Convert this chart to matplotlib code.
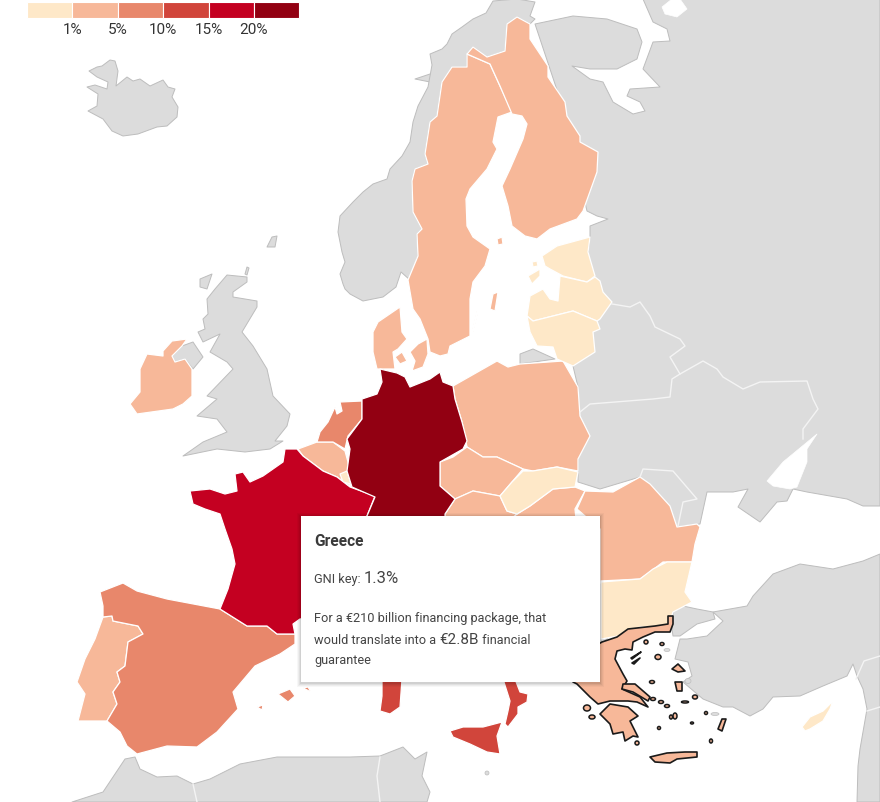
import matplotlib
matplotlib.use("Agg")
import matplotlib.pyplot as plt
from matplotlib.patches import Polygon, Rectangle, Ellipse

plt.rcParams["font.family"] = ["Roboto", "DejaVu Sans"]

# choropleth classes
legend_colors = ["#FEE8C8", "#F7B899", "#E8876B", "#D1453B", "#C40021", "#920012"]
legend_labels = ["1%", "5%", "10%", "15%", "20%"]
GREY = "#DCDCDC"
COAST = "#BDBDBD"

# outlines, in picture pixels
iceland = [(89,72),(97,68),(102,67),(110,61),(115,62),(118,72),(116,87),(127,78),(133,82),(140,80),(150,87),(163,81),(168,88),(175,90),(172,98),(178,108),(177,118),(167,127),(157,128),(138,135),(123,137),(112,132),(103,120),(88,112),(97,107),(98,95),(87,88),(95,86),(107,90),(108,83),(97,78)]
faroe = [(267,248),(272,238),(277,237),(275,248)]
hebrides = [(200,280),(212,275),(207,290),(200,288)]
orkney = [(245,275),(247,268),(249,269),(247,276)]
lofoten = [(415,80),(430,75),(438,78),(430,83)]
britain = [(227,276),(247,278),(247,283),(233,293),(233,298),(257,302),(257,308),(242,333),(253,347),(267,370),(273,397),(290,415),(287,427),(275,442),(283,442),(270,450),(245,453),(217,450),(183,457),(203,443),(227,433),(217,420),(197,417),(217,400),(207,397),(233,370),(227,363),(210,353),(220,335),(203,343),(198,333),(205,330),(203,320),(208,315),(207,300),(215,290)]
n_ireland = [(172,357),(182,347),(193,343),(203,358),(193,370),(185,360),(175,363)]
ireland = [(163,352),(172,342),(187,340),(182,347),(172,357),(175,363),(185,360),(192,370),(192,397),(183,405),(173,410),(137,415),(130,405),(140,393),(140,370),(147,355),(163,357)]
norway = [(345,290),(350,295),(363,302),(383,298),(396,288),(401,273),(410,281),(418,257),(417,235),(422,230),(413,213),(412,182),(415,170),(428,165),(425,155),(430,123),(437,117),(442,83),(452,68),(467,68),(467,55),(473,48),(487,58),(505,52),(507,25),(517,18),(530,25),(535,20),(530,17),(535,3),(517,0),(493,2),(486,14),(473,20),(462,28),(452,35),(447,45),(442,50),(430,55),(432,66),(428,88),(418,107),(413,123),(410,143),(402,157),(390,170),(387,180),(373,185),(363,193),(353,203),(340,217),(338,233),(342,253),(345,263),(340,275),(343,285)]
sweden = [(408,281),(418,257),(417,235),(422,230),(413,213),(412,182),(415,170),(428,165),(425,155),(430,123),(437,117),(442,83),(452,68),(467,68),(467,55),(490,65),(500,87),(512,113),(498,118),(493,143),(497,150),(487,170),(470,190),(466,200),(467,227),(473,238),(490,250),(485,267),(473,283),(470,300),(470,337),(450,347),(448,355),(440,357),(430,353),(428,340),(420,320),(413,310)]
gotland = [(490,310),(493,295),(498,293),(495,312)]
oland = [(472,333),(477,312),(478,313),(473,333)]
finland = [(517,18),(530,25),(530,40),(548,67),(548,78),(565,103),(567,117),(580,137),(580,143),(598,153),(597,173),(583,212),(577,220),(550,230),(537,240),(525,237),(512,227),(508,207),(502,187),(510,170),(523,140),(527,125),(522,117),(512,115),(500,87),(490,65),(467,55),(473,48),(487,58),(505,52),(507,25)]
aland = [(497,240),(502,238),(503,245),(498,246)]
east = [(535,25),(573,17),(607,20),(637,30),(642,43),(637,60),(617,70),(590,70),(572,67),(590,80),(603,83),(613,103),(633,115),(645,112),(640,103),(627,97),(630,90),(660,88),(643,70),(653,43),(670,42),(667,30),(653,23),(643,0),(880,0),(880,507),(863,507),(847,500),(807,493),(793,490),(787,502),(777,503),(760,523),(738,508),(748,490),(733,493),(707,493),(700,525),(677,528),(640,478),(600,490),(578,483),(578,388),(573,367),(590,238),(590,227),(608,220),(597,217),(587,212),(560,100)]
white_lake = [(662,8),(672,0),(680,0),(687,10),(677,18),(665,15)]
azov = [(817,435),(807,450),(807,463),(797,488),(790,490),(773,487),(767,482),(783,463)]
belarus_west = [(612,305),(630,308),(640,303),(650,317),(655,328),(680,340),(685,347),(670,358),(680,375),(672,380),(670,398),(653,400),(590,405),(580,413)]
ukraine_north = [(680,375),(703,362),(717,370),(723,378),(743,390),(760,383),(807,382),(813,400),(818,410),(803,430),(803,440)]
moldova = [(640,478),(643,470),(673,472),(697,500),(683,503),(678,527)]
turkey = [(880,555),(863,562),(833,570),(800,565),(773,575),(753,597),(747,607),(713,613),(723,622),(707,637),(687,640),(680,640),(675,660),(688,663),(692,677),(683,683),(703,700),(723,708),(733,708),(750,717),(763,710),(773,698),(800,697),(823,687),(847,677),(853,665),(857,677),(863,690),(867,710),(860,750),(858,767),(857,803),(880,803)]
thrace = [(673,613),(683,607),(697,610),(713,613),(715,620),(697,625),(680,637),(673,637),(672,630)]
levant_a = [(856,680),(864,662),(880,657)]
levant_b = [(867,712),(880,708)]
balkan_grey = [(601,585),(608,600),(605,617),(615,633),(601,645)]
africa = [(72,803),(103,793),(125,760),(135,758),(140,770),(157,778),(177,777),(193,785),(210,780),(240,765),(277,758),(300,758),(350,758),(380,757),(403,748),(415,760),(427,753),(422,777),(430,793),(427,803)]
morocco_line = [(193,785),(197,803)]
tunisia_line = [(380,758),(377,777),(380,803)]
kaliningrad = [(520,355),(533,350),(555,360),(520,365)]

spain = [(100,593),(123,584),(137,592),(167,600),(220,610),(247,627),(267,627),(277,635),(295,635),(295,645),(280,655),(255,667),(233,693),(238,710),(217,733),(197,748),(167,747),(137,755),(127,747),(120,733),(107,722),(117,705),(113,693),(120,683),(117,673),(125,667),(128,643),(143,635),(138,627),(113,622),(112,617),(103,618),(103,607)]
mallorca = [(278,695),(290,690),(295,697),(288,703)]
menorca = [(303,689),(308,688),(311,693)]
ibiza = [(257,708),(263,706),(262,711)]
portugal = [(103,618),(112,617),(113,622),(138,627),(143,635),(128,643),(125,667),(117,673),(120,683),(113,693),(117,705),(107,722),(78,722),(85,695),(77,683),(85,660),(95,640)]
france = [(190,492),(210,490),(225,495),(237,492),(235,475),(243,473),(250,483),(263,477),(283,463),(285,450),(297,450),(303,457),(323,472),(337,478),(350,488),(375,497),(367,517),(367,530),(400,560),(400,610),(300,620),(293,625),(295,635),(277,635),(267,627),(247,627),(220,610),(228,590),(235,565),(232,550),(225,530),(220,515),(205,510),(193,505)]
belgium = [(298,450),(317,443),(333,443),(345,452),(348,463),(350,487),(337,478),(323,472),(303,457)]
luxembourg = [(340,475),(347,472),(351,485),(343,483)]
netherlands = [(340,403),(362,402),(362,420),(348,437),(345,450),(333,443),(317,443),(320,433),(328,423),(335,408),(337,415),(342,412)]
germany = [(380,370),(397,374),(405,378),(410,388),(430,380),(440,373),(443,383),(453,387),(455,400),(462,423),(467,442),(463,450),(440,463),(440,487),(455,500),(445,515),(445,530),(367,530),(367,517),(375,498),(352,488),(347,472),(350,450),(347,440),(362,420),(362,400),(377,395),(382,383)]
denmark = [(373,333),(378,323),(400,308),(402,333),(407,340),(398,350),(393,353),(395,370),(377,370),(373,353)]
zealand = [(410,353),(418,345),(427,340),(428,355),(423,368),(412,372),(415,362)]
funen = [(395,358),(402,353),(407,362),(400,365)]
poland = [(453,387),(497,362),(508,368),(520,365),(563,362),(578,388),(580,417),(590,437),(578,460),(578,472),(557,468),(533,472),(523,470),(497,458),(483,458),(467,448),(462,423),(455,400)]
czechia = [(440,463),(453,458),(467,448),(483,458),(497,458),(523,470),(512,483),(500,497),(473,492),(455,500),(440,487)]
slovakia = [(500,497),(512,483),(523,472),(533,472),(557,468),(578,473),(575,488),(553,490),(530,507),(517,515),(507,512)]
hungary = [(517,515),(530,507),(553,490),(575,488),(585,492),(575,510),(577,530),(500,530),(505,517)]
austria = [(445,515),(455,500),(473,492),(500,497),(507,512),(517,515),(505,525),(445,530)]
romania = [(577,510),(585,492),(613,493),(640,478),(650,485),(670,507),(677,528),(697,525),(700,528),(695,545),(692,563),(663,563),(650,573),(640,580),(600,582),(600,530)]
bulgaria = [(601,583),(640,580),(653,570),(667,563),(692,563),(685,593),(692,603),(673,613),(668,628),(640,628),(618,637),(601,640)]
estonia = [(542,257),(557,247),(590,238),(588,253),(595,277),(587,283),(563,277),(550,270),(545,267)]
latvia = [(530,297),(543,290),(550,300),(558,302),(560,277),(587,283),(595,278),(600,282),(603,293),(612,303),(600,320),(597,322),(573,312),(533,322),(527,317)]
lithuania = [(533,322),(573,312),(597,322),(600,330),(593,333),(595,353),(573,367),(557,360),(553,348),(537,347),(530,333),(527,317)]
saaremaa = [(528,277),(540,270),(540,277),(532,285)]
hiiumaa = [(532,263),(537,262),(538,267),(533,268)]
sicily = [(450,732),(463,728),(483,728),(502,723),(497,737),(500,755),(487,753),(470,745),(453,738)]
calabria = [(503,680),(515,680),(520,693),(528,695),(527,703),(518,708),(518,715),(508,728),(505,725),(508,712),(510,702)]
sardinia = [(382,680),(402,680),(400,708),(390,715),(380,712),(382,697)]
cyprus = [(802,728),(810,718),(823,712),(833,702),(830,710),(823,722),(810,730),(805,732)]

greece = [(590,650),(602,643),(617,638),(628,630),(655,627),(668,625),(668,617),(673,617),(673,625),(670,633),(655,633),(643,638),(633,643),(632,651),(625,650),(617,652),(615,660),(623,675),(627,682),(622,690),(640,698),(648,708),(637,703),(628,702),(610,702),(598,705),(590,698),(577,685),(573,683),(573,670)]
peloponnese = [(600,715),(610,705),(628,708),(638,717),(630,722),(638,738),(633,737),(625,742),(623,733),(613,735),(610,725)]
crete = [(650,758),(667,754),(685,753),(697,753),(697,758),(677,760),(670,764),(655,763)]
euboea = [(623,685),(635,685),(650,698),(648,702),(633,693),(622,690)]
finger_a = [(631,659),(641,653),(632,660)]
finger_b = [(632,664),(640,659),(634,665)]
lesbos = [(672,670),(678,665),(685,672),(678,673)]
chios = [(675,683),(682,683),(682,692),(677,692)]
rhodes = [(718,730),(722,720),(726,720),(722,732)]
# centre x, centre y, width, height of the small Greek islands
greek_islets = [(646,643,4,4),(662,645,4,3),(658,658,6,5),(652,683,5,3),(653,700,5,3),(661,703,5,3),(667,707,5,3),(695,698,5,4),(685,703,7,2),(675,717,4,6),(671,718,3,4),(692,724,3,2),(706,714,3,3),(659,729,3,3),(711,742,3,4),(637,744,4,4),(592,718,6,4),(587,709,7,6)]
grey_islets = [(667,651,6,3),(688,682,6,5),(715,715,8,3),(487,774,4,4)]

grey_land = [iceland, faroe, hebrides, orkney, lofoten, britain, n_ireland, norway, east, turkey, thrace, balkan_grey, africa, kaliningrad]
white_borders = [belarus_west, ukraine_north, moldova, levant_a, levant_b, morocco_line, tunisia_line]
peach = [ireland, sweden, gotland, oland, finland, aland, portugal, belgium, denmark, zealand, funen, poland, czechia, hungary, austria, romania]
cream = [luxembourg, bulgaria, estonia, latvia, lithuania, slovakia, saaremaa, hiiumaa, cyprus]
salmon = [spain, mallorca, menorca, ibiza, netherlands]
red = [sicily, calabria, sardinia]
greek_parts = [greece, peloponnese, crete, euboea, finger_a, finger_b, lesbos, chios, rhodes]

fig = plt.figure(figsize=(8.8, 8.03), dpi=100, facecolor="white")
ax = fig.add_axes([0, 0, 1, 1])
ax.set_xlim(0, 880)
ax.set_ylim(803, 0)
ax.axis("off")


def draw_group(shapes, color, edge="white", lw=0.9):
    for pts in shapes:
        ax.add_patch(Polygon(pts, closed=True, fc=color, ec=edge, lw=lw, joinstyle="round"))


draw_group(grey_land, GREY, edge=COAST, lw=0.7)
draw_group([white_lake, azov], "white", edge="white", lw=0.5)
for line in white_borders:
    ax.plot([p[0] for p in line], [p[1] for p in line], color="#F4F4F4", lw=1.0)
for x, y, w, h in grey_islets:
    ax.add_patch(Ellipse((x, y), w, h, fc=GREY, ec=COAST, lw=0.5))

draw_group(peach, legend_colors[1])
draw_group(cream, legend_colors[0])
draw_group(salmon, legend_colors[2])
draw_group(red, legend_colors[3])
draw_group([france], legend_colors[4])
draw_group([germany], legend_colors[5])
draw_group(greek_parts, legend_colors[1], edge="#1A1A1A", lw=1.2)
for x, y, w, h in greek_islets:
    ax.add_patch(Ellipse((x, y), w, h, fc=legend_colors[1], ec="#1A1A1A", lw=1.1))

# legend strip
cell_w = 45.4
for i, col in enumerate(legend_colors):
    ax.add_patch(Rectangle((27 + i * cell_w, 3), cell_w, 16, fc=col, ec="white", lw=0.8))
for i, lab in enumerate(legend_labels):
    ax.text(27 + (i + 1) * cell_w, 30, lab, ha="center", va="center", fontsize=11, color="#333333")

# tooltip with a soft shadow
for grow, alpha in [(4, 0.03), (3, 0.04), (2, 0.05), (1, 0.07)]:
    ax.add_patch(Rectangle((301 - grow, 517 - grow + 1), 299 + 2 * grow, 166 + 2 * grow,
                           fc="black", ec="none", alpha=alpha, zorder=9))
ax.add_patch(Rectangle((301, 517), 299, 166, fc="white", ec="none", zorder=10))

TEXT = "#444444"
renderer = fig.canvas.get_renderer()


def runs(x, y, parts):
    # pieces of one line that differ in size, placed one after the other
    for s, size in parts:
        t = ax.text(x, y, s, fontsize=size, color=TEXT, va="baseline", ha="left", zorder=11)
        x += t.get_window_extent(renderer).width


ax.text(314, 546, "Greece", fontsize=11.2, fontweight="bold", color="#3A3A3A", zorder=11)
runs(314, 583, [("GNI key:\u00a0", 9.2), ("1.3%", 12)])
runs(314, 622, [("For a €210 billion financing package, that", 9.15)])
runs(314, 644, [("would translate into a\u00a0", 9.15), ("€2.8B", 11), ("\u00a0financial", 9.15)])
runs(314, 664, [("guarantee", 9.15)])

fig.savefig("out.png", dpi=100, facecolor="white")
